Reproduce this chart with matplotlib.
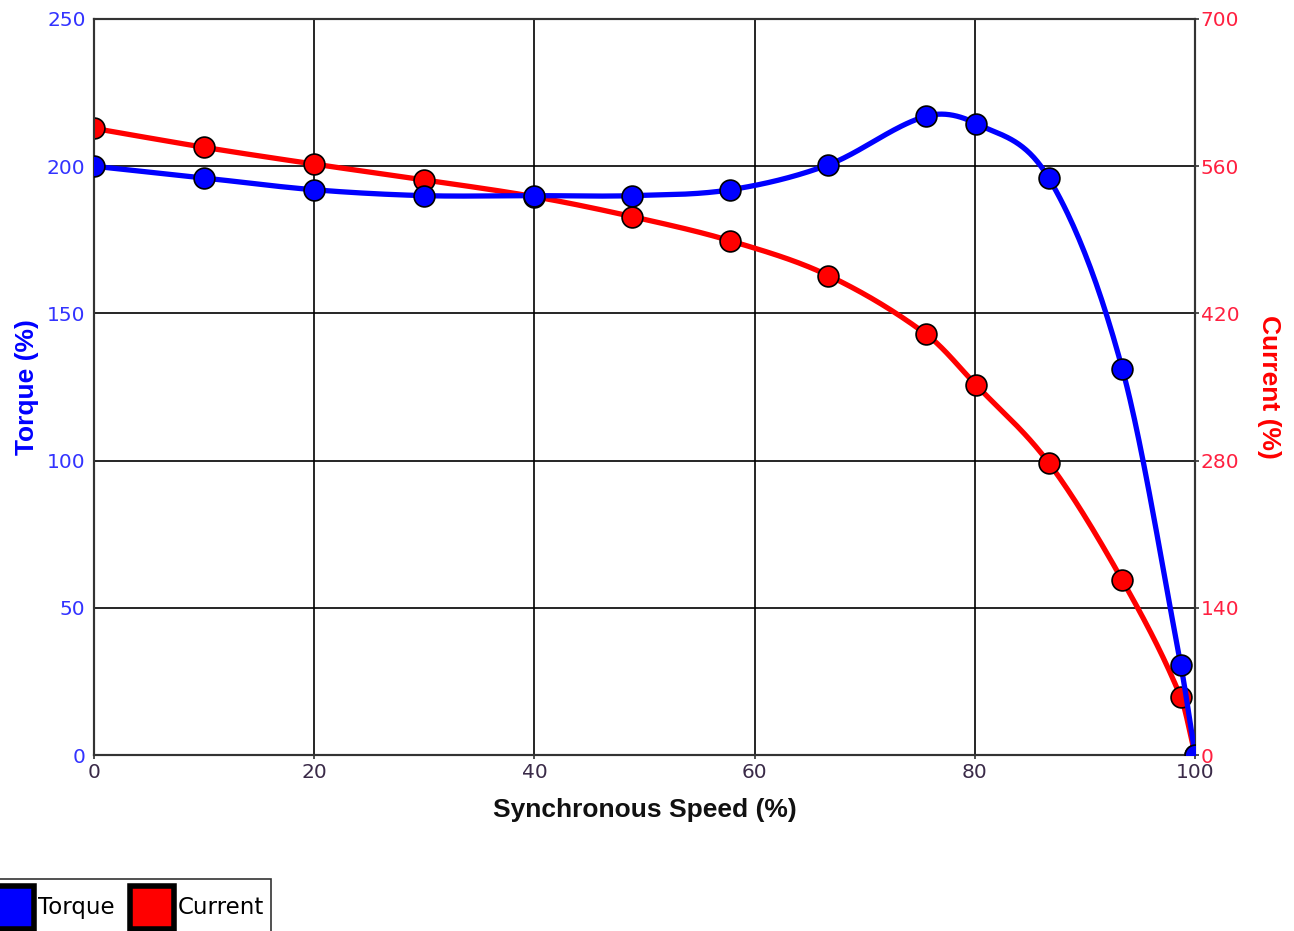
import numpy as np
import matplotlib
matplotlib.use("Agg")
import matplotlib.pyplot as plt
from matplotlib.patches import Patch, Rectangle

# values
speed = [0, 10, 20, 30, 40, 48.9, 57.8, 66.7, 75.6, 80.1, 86.7, 93.4, 98.7, 100]
torque = [200, 196, 192, 190, 190, 190, 192, 200.5, 217, 214.5, 196, 131, 30.5, 0]
current = [596, 578, 562, 547, 531, 512, 489, 456, 400, 352, 278, 166, 55, 0]

torque_ticks = [0, 50, 100, 150, 200, 250]
current_ticks = [0, 140, 280, 420, 560, 700]
speed_ticks = [0, 20, 40, 60, 80, 100]

BLUE = "#0000ff"
RED = "#ff0000"


def smooth(xs, ys, n=40):
    # cubic hermite through the points, only used to draw the line
    x = np.array(xs, float)
    y = np.array(ys, float)
    h = np.diff(x)
    m = np.empty_like(y)
    m[1:-1] = (y[2:] - y[:-2]) / (x[2:] - x[:-2])
    m[0] = (y[1] - y[0]) / h[0]
    m[-1] = (y[-1] - y[-2]) / h[-1]
    outx, outy = [], []
    t = np.linspace(0, 1, n)
    for i in range(len(x) - 1):
        h00 = 2 * t**3 - 3 * t**2 + 1
        h10 = t**3 - 2 * t**2 + t
        h01 = -2 * t**3 + 3 * t**2
        h11 = t**3 - t**2
        outx.extend(x[i] + t * h[i])
        outy.extend(h00 * y[i] + h10 * h[i] * m[i] + h01 * y[i + 1] + h11 * h[i] * m[i + 1])
    return np.array(outx), np.array(outy)


fig = plt.figure(figsize=(12.94, 9.31), dpi=100)
ax = fig.add_axes([0.0726, 0.189, 0.851, 0.7906])
ax2 = ax.twinx()
ax.set_zorder(2)
ax.patch.set_visible(False)

# current (right axis), drawn under the torque
cx, cy = smooth(speed, current)
ax2.plot(cx, cy, color=RED, lw=3.8, solid_capstyle="round", zorder=2)
sc2 = ax2.scatter(speed, current, s=15**2, c=RED, edgecolors="black", linewidths=1.2, zorder=3)

tx, ty = smooth(speed, torque)
ax.plot(tx, ty, color=BLUE, lw=3.8, solid_capstyle="round", zorder=4)
sc1 = ax.scatter(speed, torque, s=15**2, c=BLUE, edgecolors="black", linewidths=1.2, zorder=5)

# markers cut at the plot frame like in the reference
for a, sc in ((ax, sc1), (ax2, sc2)):
    clip = Rectangle((0, 0), 1, 1, transform=a.transAxes, visible=False)
    a.add_patch(clip)
    sc.set_clip_path(clip)

ax.set_xlim(0, 100)
ax.set_ylim(0, 250)
ax2.set_ylim(0, 700)
ax.set_xticks(speed_ticks)
ax.set_yticks(torque_ticks)
ax2.set_yticks(current_ticks)

# grid lines, drawn on the back axes
for v in torque_ticks:
    ax2.axhline(v * 700 / 250, color="black", lw=1.2, zorder=1)
for v in speed_ticks:
    ax2.axvline(v, color="black", lw=1.2, zorder=1)

for a in (ax, ax2):
    for s in a.spines.values():
        s.set_color("#333333")
        s.set_linewidth(1.5)

ax.tick_params(axis="y", colors="#3333ff", labelsize=14.5, length=0, pad=6)
ax.tick_params(axis="x", colors="#333333", labelsize=14.5, length=3, width=1.2,
               pad=3, labelcolor="#3a2a48")
ax2.tick_params(axis="y", colors="#333333", labelcolor="#ff2040", labelsize=14.5,
                length=3, width=1.2, pad=1)

ax.set_xlabel("Synchronous Speed (%)", fontsize=19, fontweight="bold",
              family="Liberation Sans", color="#111111", labelpad=11)
ax.set_ylabel("Torque (%)", fontsize=19, fontweight="bold",
              family="Liberation Sans", color=BLUE, labelpad=6)
ax2.set_ylabel("Current (%)", fontsize=19, fontweight="bold",
               family="Liberation Sans", color=RED, rotation=270, labelpad=30)

handles = [Patch(facecolor=BLUE, edgecolor="black", linewidth=4, joinstyle="round",
                 label="Torque"),
           Patch(facecolor=RED, edgecolor="black", linewidth=4, joinstyle="round",
                 label="Current")]
leg = fig.legend(handles=handles, loc="lower left", bbox_to_anchor=(-0.0124, -0.005),
                 ncol=2, frameon=True, fancybox=False, edgecolor="black",
                 fontsize=16.5, handlelength=1.9, handleheight=2.5, handletextpad=0.15,
                 columnspacing=0.7, borderpad=0.3, borderaxespad=0)
leg.get_frame().set_linewidth(1.2)

fig.savefig("out.png", dpi=100)
